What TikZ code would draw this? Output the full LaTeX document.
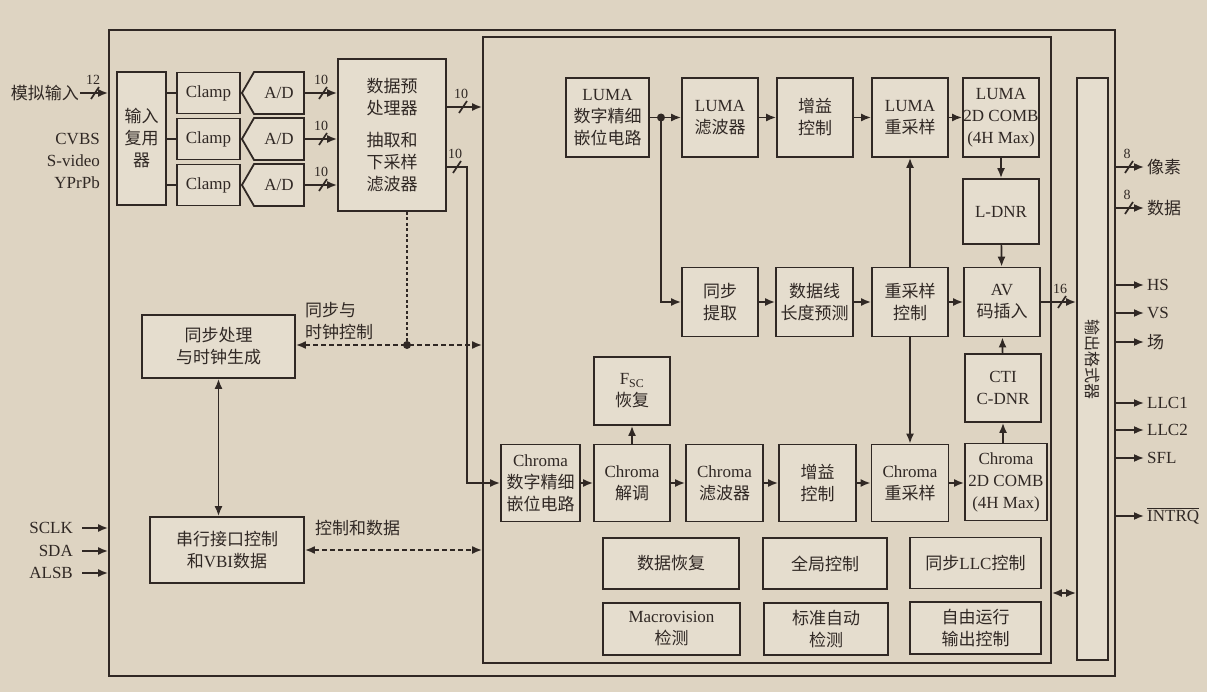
\documentclass[tikz,border=0pt]{standalone}
\usepackage{fontspec}
\setmainfont{Liberation Serif}
\newfontfamily\cjk{Noto Sans CJK SC}
\newcommand{\zh}[1]{{\cjk #1}}
\usetikzlibrary{arrows.meta,shapes.symbols}
\definecolor{paper}{RGB}{222,212,194}
\definecolor{boxfill}{RGB}{229,221,206}
\definecolor{ink}{RGB}{48,40,36}
% bus width mark: slash across a wire, width above it
\newcommand{\busmark}[2]{%
  \draw[wire] ([shift={(-4pt,-6pt)}]#1) -- ([shift={(4pt,6pt)}]#1);
  \node[buslbl] at ([shift={(-2pt,8pt)}]#1) {#2};}

\begin{document}
\begin{tikzpicture}[x=1pt, y=-1pt,
    blk/.style={draw=ink, fill=boxfill, line width=1.8pt, align=center, inner sep=0pt,
                text=ink, font=\fontsize{17}{22}\selectfont},
    frame/.style={draw=ink, line width=1.8pt, inner sep=0pt},
    wire/.style={draw=ink, line width=1.7pt},
    arr/.style={wire, -{Latex[length=10pt,width=8pt]}},
    darr/.style={wire, {Latex[length=10pt,width=8pt]}-{Latex[length=10pt,width=8pt]}},
    ctlbus/.style={darr, line width=1.8pt, dash pattern=on 5pt off 3pt},
    lbl/.style={text=ink, inner sep=1pt, font=\fontsize{17}{22}\selectfont},
    buslbl/.style={text=ink, inner sep=0pt, anchor=south, font=\fontsize{14}{14}\selectfont}]
    % Paper
    \fill[paper] (0,0) rectangle (1207,692);
    \useasboundingbox (0,0) rectangle (1207,692);
    % Frames
    \node[frame, minimum width=1006pt, minimum height=646pt] (chip) at (612,353) {};
    \node[frame, minimum width=568pt, minimum height=626pt] (core) at (767,350) {};
    \node[blk, minimum width=31pt, minimum height=582pt] (fmt) at (1092.5,369) {};
    \node[text=ink, rotate=-90, font=\fontsize{16}{16}\selectfont] (fmtl) at (1093,360) {\zh{输出格式器}};

    % Input stage
    \node[blk, minimum width=49pt, minimum height=133pt] (mux) at (141.5,138.5) {\zh{输入}\\\zh{复用}\\\zh{器}};
    \node[blk, minimum width=108pt, minimum height=152pt] (pre) at (392,135)
        {\zh{数据预}\\\zh{处理器}\\[10pt]\zh{抽取和}\\\zh{下采样}\\\zh{滤波器}};
    \foreach \yy [count=\i] in {93,139,185} {
        \node[blk, minimum width=63pt, minimum height=41pt] (clamp\i) at (208.5,\yy) {Clamp};
        \node[blk, signal, signal to=west, signal pointer angle=120,
              minimum width=62pt, minimum height=42pt] (ad\i) at (279,\yy) {A/D};
        \draw[wire] (clamp\i.west -| mux.east) -- (clamp\i.west);
        \draw[wire] (clamp\i.east) -- (ad\i.west);
        \draw[arr] (ad\i.east) -- (ad\i.east -| pre.west);
        \busmark{323,\yy}{10}
    }

    % Inputs
    \node[lbl, anchor=east] (ain) at (80,93) {\zh{模拟输入}};
    \draw[arr] (ain) -- (ain -| chip.west);
    \busmark{95,93}{12}
    \node[lbl, anchor=east, align=right] (srcs) at (101,161) {CVBS\\S-video\\YPrPb};
    \foreach \yy/\lab [count=\i] in {528/SCLK, 551/SDA, 573/ALSB} {
        \node[lbl, anchor=east] (ser\i) at (74,\yy) {\lab};
        \draw[arr] ([xshift=8pt]ser\i.east) -- (chip.west |- ser\i.east);
    }

    % Preprocessor outputs
    \draw[arr] (pre.east |- 0,107) -- (core.west |- 0,107);
    \busmark{463,107}{10}
    \node[blk, minimum width=79pt, minimum height=77pt] (cclamp) at (540.5,483)
        {Chroma\\\zh{数字精细}\\\zh{嵌位电路}};
    \draw[arr] (pre.east |- 0,167) -- (467,167) |- (cclamp);
    \busmark{457,167}{10}

    % Sync and control
    \node[blk, minimum width=153pt, minimum height=63pt] (sync) at (218.5,346.5) {\zh{同步处理}\\\zh{与时钟生成}};
    \node[blk, minimum width=154pt, minimum height=66pt] (serial) at (227,550) {\zh{串行接口控制}\\\zh{和}VBI\zh{数据}};
    \coordinate (tap) at (407,345);
    \draw[wire, line width=2.2pt, dash pattern=on 3pt off 2.5pt] (pre.south -| tap) -- (tap);
    \fill[ink] (tap) circle (4pt);
    \draw[ctlbus] (sync.east |- tap) -- (core.west |- tap);
    \draw[ctlbus] (serial.east) -- (core.west |- serial.east);
    \draw[darr] (sync.south) -- (sync.south |- serial.north);
    \node[lbl, anchor=west, align=left] (syncl) at (304,321) {\zh{同步与}\\\zh{时钟控制}};
    \node[lbl, anchor=west] (ctll) at (314,528) {\zh{控制和数据}};

    % Luma path
    \node[blk, minimum width=83pt, minimum height=79pt] (lclamp) at (607.5,117.5) {LUMA\\\zh{数字精细}\\\zh{嵌位电路}};
    \node[blk, minimum width=76pt, minimum height=79pt] (lfilt) at (720,117.5) {LUMA\\\zh{滤波器}};
    \node[blk, minimum width=76pt, minimum height=79pt] (lgain) at (815,117.5) {\zh{增益}\\\zh{控制}};
    \node[blk, minimum width=76pt, minimum height=79pt] (lres) at (910,117.5) {LUMA\\\zh{重采样}};
    \node[blk, minimum width=76pt, minimum height=79pt] (lcomb) at (1001,117.5) {LUMA\\2D COMB\\(4H Max)};
    \node[blk, minimum width=76pt, minimum height=65pt] (ldnr) at (1001,211.5) {L-DNR};
    \draw[arr] (lclamp) -- (lfilt);
    \draw[arr] (lfilt) -- (lgain);
    \draw[arr] (lgain) -- (lres);
    \draw[arr] (lres) -- (lcomb);
    \draw[arr] (lcomb) -- (ldnr);

    % Sync slicer row
    \node[blk, minimum width=76pt, minimum height=69pt] (syncx) at (720,302) {\zh{同步}\\\zh{提取}};
    \node[blk, minimum width=77pt, minimum height=69pt] (linepred) at (814.5,302) {\zh{数据线}\\\zh{长度预测}};
    \node[blk, minimum width=76pt, minimum height=69pt] (resctl) at (910,302) {\zh{重采样}\\\zh{控制}};
    \node[blk, minimum width=76pt, minimum height=69pt] (avins) at (1002,302) {AV\\\zh{码插入}};
    \coordinate (ltap) at (661,117.5);
    \fill[ink] (ltap) circle (4pt);
    \draw[arr] (ltap) |- (syncx);
    \draw[arr] (syncx) -- (linepred);
    \draw[arr] (linepred) -- (resctl);
    \draw[arr] (resctl) -- (avins);
    \draw[arr] (resctl) -- (lres);
    \draw[arr] (ldnr) -- (avins);
    \draw[arr] (avins) -- (avins -| fmt.west);
    \busmark{1062,302}{16}

    % Chroma path
    \node[blk, minimum width=76pt, minimum height=68pt] (fsc) at (632,391) {F\textsubscript{SC}\\\zh{恢复}};
    \node[blk, minimum width=76pt, minimum height=68pt] (cti) at (1003,388) {CTI\\C-DNR};
    \node[blk, minimum width=76pt, minimum height=77pt] (cdemod) at (632,483) {Chroma\\\zh{解调}};
    \node[blk, minimum width=77pt, minimum height=77pt] (cfilt) at (724.5,483) {Chroma\\\zh{滤波器}};
    \node[blk, minimum width=77pt, minimum height=77pt] (cgain) at (817.5,483) {\zh{增益}\\\zh{控制}};
    \node[blk, minimum width=77pt, minimum height=77pt] (cres) at (910,483) {Chroma\\\zh{重采样}};
    \node[blk, minimum width=82pt, minimum height=77pt] (ccomb) at (1006,482) {Chroma\\2D COMB\\(4H Max)};
    \draw[arr] (cclamp) -- (cdemod);
    \draw[arr] (cdemod) -- (cfilt);
    \draw[arr] (cfilt) -- (cgain);
    \draw[arr] (cgain) -- (cres);
    \draw[arr] (cres) -- (ccomb.west |- cres);
    \draw[arr] (cdemod) -- (fsc);
    \draw[arr] (resctl) -- (cres);
    \draw[arr] (ccomb.north -| cti) -- (cti);
    \draw[arr] (cti) -- (avins);

    % Control blocks
    \node[blk, minimum width=136pt, minimum height=51pt] (drec) at (671,563.5) {\zh{数据恢复}};
    \node[blk, minimum width=124pt, minimum height=51pt] (gctl) at (825,563.5) {\zh{全局控制}};
    \node[blk, minimum width=131pt, minimum height=51pt] (llcctl) at (975.5,563) {\zh{同步}LLC\zh{控制}};
    \node[blk, minimum width=137pt, minimum height=52pt] (macro) at (671.5,629) {Macrovision\\\zh{检测}};
    \node[blk, minimum width=124pt, minimum height=52pt] (stdet) at (826,629) {\zh{标准自动}\\\zh{检测}};
    \node[blk, minimum width=131pt, minimum height=52pt] (freerun) at (975.5,628) {\zh{自由运行}\\\zh{输出控制}};
    \draw[darr] (core.east |- 0,593) -- (fmt.west |- 0,593);

    % Outputs
    \node[lbl, anchor=west] (pix) at (1146,167) {\zh{像素}};
    \node[lbl, anchor=west] (dat) at (1146,208) {\zh{数据}};
    \draw[arr] (chip.east |- pix.west) -- ([xshift=-2pt]pix.west);
    \draw[arr] (chip.east |- dat.west) -- ([xshift=-2pt]dat.west);
    \busmark{1129,167}{8}
    \busmark{1129,208}{8}
    \foreach \yy/\lab [count=\i] in {285/HS, 313/VS, 342/\zh{场}, 403/LLC1, 430/LLC2, 458/SFL, 516/$\overline{\mbox{INTRQ}}$} {
        \node[lbl, anchor=west] (out\i) at (1146,\yy) {\lab};
        \draw[arr] (chip.east |- out\i.west) -- ([xshift=-2pt]out\i.west);
    }
\end{tikzpicture}
\end{document}
